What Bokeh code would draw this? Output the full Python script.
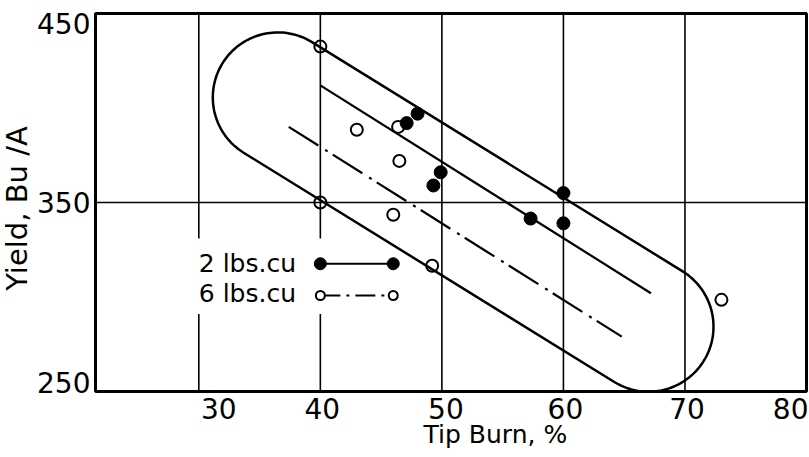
import numpy as np
from bokeh.plotting import figure
from bokeh.models import Range1d, Label, BoxAnnotation
from bokeh.embed import file_html
from bokeh.resources import INLINE

# ---------------- data ----------------
tip_burn_2lbs = [47.1, 48.0, 49.3, 49.9, 57.3, 60.0, 60.0]
yield_2lbs = [392.0, 397.0, 359.0, 366.0, 341.5, 355.0, 339.0]

tip_burn_6lbs = [40.0, 43.0, 46.4, 46.5, 40.0, 46.0, 49.2, 73.0]
yield_6lbs = [432.5, 388.5, 390.0, 372.0, 350.0, 343.5, 316.5, 298.5]

trend_2lbs_x = [40.0, 67.2]
trend_2lbs_y = [412.0, 302.0]
trend_6lbs_x = [37.4, 64.8]
trend_6lbs_y = [390.0, 279.0]

envelope_end_x = [36.5, 67.0]
envelope_end_y = [405.6, 284.3]

x_ticks = [30, 40, 50, 60, 70, 80]
y_ticks = [250, 350, 450]
series_names = ["2 lbs.cu", "6 lbs.cu"]
x_title = "Tip Burn, %"
y_title = "Yield, Bu /A"

# ---------------- layout / style ----------------
X0, X1, Y0, Y1 = 21.5, 80.0, 250.0, 450.0      # plotted (bordered) area
W, H = 808, 456                                 # canvas
BOX_L, BOX_R, BOX_T, BOX_B = 95, 806, 13, 391   # border position on canvas (px)
SX = (BOX_R - BOX_L) / (X1 - X0)
SY = (BOX_B - BOX_T) / (Y1 - Y0)
FONT = "DejaVu Sans"
TICK_FS = "28px"
ENVELOPE_R = 65  # px

p = figure(width=W, height=H,
           x_range=Range1d(X0 - BOX_L / SX, X1 + (W - BOX_R) / SX),
           y_range=Range1d(Y0 - (H - BOX_B) / SY, Y1 + BOX_T / SY),
           x_axis_location=None, y_axis_location=None,
           output_backend="svg", toolbar_location=None,
           min_border=0)
p.xgrid.visible = False
p.ygrid.visible = False
p.background_fill_color = "white"
p.border_fill_color = "white"
p.outline_line_color = None

# grid lines inside the bordered area
gx = x_ticks[:-1]
p.segment(x0=gx, y0=[Y0] * len(gx), x1=gx, y1=[Y1] * len(gx),
          line_color="black", line_width=1.6)
p.segment(x0=[X0], y0=[y_ticks[1]], x1=[X1], y1=[y_ticks[1]],
          line_color="black", line_width=1.6)

# white patch behind the legend
p.quad(left=[29.0], right=[44.0], bottom=[291.0], top=[331.0],
       fill_color="white", line_color=None)

# envelope (capsule)
ax_, ay_ = envelope_end_x[0] * SX, envelope_end_y[0] * SY
bx_, by_ = envelope_end_x[1] * SX, envelope_end_y[1] * SY
phi = np.arctan2(by_ - ay_, bx_ - ax_)
t1 = np.linspace(phi + np.pi / 2, phi + 3 * np.pi / 2, 80)
t2 = np.linspace(phi - np.pi / 2, phi + np.pi / 2, 80)
ex = np.concatenate([ax_ + ENVELOPE_R * np.cos(t1), bx_ + ENVELOPE_R * np.cos(t2),
                     [ax_ + ENVELOPE_R * np.cos(t1[0])]]) / SX
ey = np.concatenate([ay_ + ENVELOPE_R * np.sin(t1), by_ + ENVELOPE_R * np.sin(t2),
                     [ay_ + ENVELOPE_R * np.sin(t1[0])]]) / SY
p.line(ex, ey, line_color="black", line_width=2.5)

# trend lines
p.line(trend_2lbs_x, trend_2lbs_y, line_color="black", line_width=2.2)
p.line(trend_6lbs_x, trend_6lbs_y, line_color="black", line_width=2.2, line_dash="35 8 3 6")

# points
p.scatter(tip_burn_2lbs, yield_2lbs, marker="circle", size=13, fill_color="black",
          line_color="black")
p.scatter(tip_burn_6lbs, yield_6lbs, marker="circle", size=12, fill_color=None,
          line_color="black", line_width=2)

# legend (label on the left, sample on the right)
LEG_X = [40.0, 46.0]
LEG_Y = [317.6, 300.8]
LEG_TEXT_X = 30.0
LEG_TEXT_Y = [317.7, 301.8]
p.line(LEG_X, [LEG_Y[0]] * 2, line_color="black", line_width=2.2)
p.scatter(LEG_X, [LEG_Y[0]] * 2, marker="circle", size=12, fill_color="black", line_color="black")
p.line(LEG_X, [LEG_Y[1]] * 2, line_color="black", line_width=2.2, line_dash="20 6 3 6")
p.scatter(LEG_X, [LEG_Y[1]] * 2, marker="circle", size=9, fill_color="white",
          line_color="black", line_width=2)
for name, ty in zip(series_names, LEG_TEXT_Y):
    p.add_layout(Label(x=LEG_TEXT_X, y=ty, text=name, text_align="left",
                       text_baseline="middle", text_font=FONT,
                       text_font_size="25px", text_color="black"))

# border of the chart area
p.add_layout(BoxAnnotation(left=X0, right=X1, bottom=Y0, top=Y1, fill_alpha=0.0,
                           line_color="black", line_alpha=1.0, line_width=3))

# tick labels
x_label_dx = [20, 2, 4, 2, 2, 2]
for t, dx in zip(x_ticks, x_label_dx):
    last = t == x_ticks[-1]
    p.add_layout(Label(x=t, y=Y0, text=str(t), x_offset=dx, y_offset=-6,
                       text_align="right" if last else "center", text_baseline="top",
                       text_font=FONT, text_font_size=TICK_FS, text_color="black"))
y_label_dy = [9, 0, -10]
for t, dy in zip(y_ticks, y_label_dy):
    p.add_layout(Label(x=X0, y=t, text=str(t), x_offset=-5, y_offset=dy,
                       text_align="right", text_baseline="middle",
                       text_font=FONT, text_font_size=TICK_FS, text_color="black"))

# axis titles
p.add_layout(Label(x=54.4, y=227.5, text=x_title, text_align="center",
                   text_baseline="middle", text_font=FONT, text_font_size="25px",
                   text_color="black"))
p.add_layout(Label(x=15.05, y=346.8, text=y_title, angle=np.pi / 2, text_align="center",
                   text_baseline="middle", text_font=FONT, text_font_size="29px",
                   text_color="black"))

open("out.html", "w").write(file_html(p, INLINE))
